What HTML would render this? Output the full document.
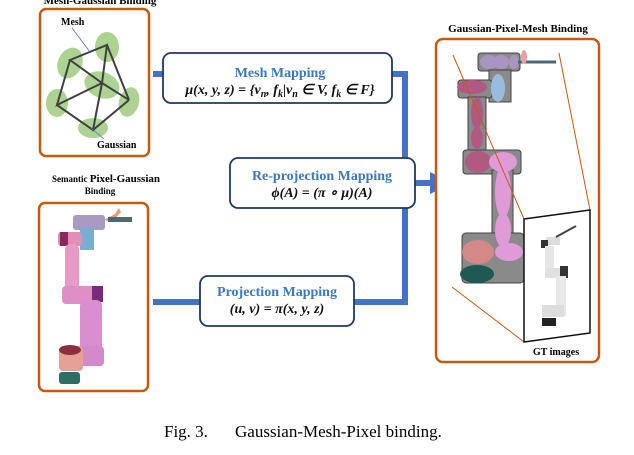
<!DOCTYPE html>
<html><head><meta charset="utf-8"><style>
body{margin:0;background:#fff}
svg{display:block}
text{font-family:"Liberation Serif",serif}
.t{font-weight:bold;fill:#3a78c0;font-size:14px}
.f{font-weight:bold;font-style:italic;font-size:14px;fill:#111}
</style></head><body>
<svg width="634" height="455" viewBox="0 0 634 455">
<g stroke="#4472c4" stroke-width="6" fill="none">
<path d="M153 74 H163"/>
<path d="M392 74 H405 V302 H354"/>
<path d="M153 302 H200"/>
<path d="M415 183 H432"/>
</g>
<polygon points="430,172 452,183 430,194" fill="#4472c4"/>

<text x="100" y="4" text-anchor="middle" font-size="11" font-weight="bold">Mesh-Gaussian Binding</text>
<rect x="40" y="9" width="109" height="147" rx="6" fill="#fff" stroke="#c55a11" stroke-width="2.5"/>
<g fill="#a9d18e" opacity="0.95">
<ellipse cx="70" cy="63" rx="12" ry="16" transform="rotate(25 70 63)"/>
<ellipse cx="107" cy="47" rx="12" ry="15"/>
<ellipse cx="102" cy="85" rx="18" ry="13" transform="rotate(20 102 85)"/>
<ellipse cx="57" cy="103" rx="11" ry="14"/>
<ellipse cx="129" cy="102" rx="10" ry="15" transform="rotate(15 129 102)"/>
<ellipse cx="93" cy="128" rx="15" ry="10"/>
</g>
<g stroke="#404040" stroke-width="2" fill="none">
<path d="M70 60 L107 45 L102 83 Z M107 45 L129 100 M70 60 L57 105 L102 83 L129 100 M57 105 L93 130 L102 83 M93 130 L129 100"/>
</g>
<text x="61" y="25" font-size="10" font-weight="bold">Mesh</text>
<line x1="72" y1="28" x2="90" y2="52" stroke="#4472c4" stroke-width="0.8"/>
<text x="97" y="148" font-size="10" font-weight="bold">Gaussian</text>
<line x1="104" y1="139" x2="91" y2="128" stroke="#4472c4" stroke-width="0.8"/>

<text x="106" y="182" text-anchor="middle" font-weight="bold"><tspan font-size="9">Semantic </tspan><tspan font-size="11">Pixel-Gaussian</tspan></text>
<text x="100" y="194" text-anchor="middle" font-size="9" font-weight="bold">Binding</text>
<rect x="39" y="203" width="109" height="188" rx="6" fill="#fff" stroke="#c55a11" stroke-width="2.5"/>
<g>
<rect x="73" y="215" width="32" height="15" rx="3" fill="#a99ac4"/>
<path d="M104 220 L115 214 L119 208 L121 212 L112 222 Z" fill="#e59a7a"/>
<rect x="108" y="217" width="24" height="5" fill="#4a6a70"/>
<rect x="80" y="228" width="14" height="22" fill="#7aaed0"/>
<rect x="58" y="232" width="24" height="14" rx="3" fill="#e08fb8"/>
<rect x="60" y="232" width="8" height="14" fill="#8a2a5a"/>
<rect x="65" y="244" width="14" height="48" rx="5" fill="#e89ac6"/>
<rect x="62" y="286" width="40" height="18" rx="4" fill="#de8fc4"/>
<rect x="92" y="286" width="11" height="16" fill="#7a2a7a"/>
<rect x="80" y="300" width="22" height="56" rx="6" fill="#d98ed0"/>
<rect x="80" y="346" width="24" height="20" rx="4" fill="#d38acb"/>
<rect x="59" y="346" width="24" height="25" rx="4" fill="#e6a096"/>
<ellipse cx="70" cy="350" rx="11" ry="5" fill="#8b2f3e"/>
<rect x="59" y="372" width="21" height="12" rx="3" fill="#2d6f64"/>
</g>

<rect x="163" y="53" width="229" height="50" rx="8" fill="#fff" stroke="#1f3864" stroke-width="1.8"/>
<text x="280" y="77" text-anchor="middle" class="t">Mesh Mapping</text>
<text x="280" y="94" text-anchor="middle" class="f">μ(x, y, z) = {v<tspan font-size="10" dy="3">n</tspan><tspan dy="-3">, f</tspan><tspan font-size="10" dy="3">k</tspan><tspan dy="-3">|v</tspan><tspan font-size="10" dy="3">n</tspan><tspan dy="-3"> ∈ V, f</tspan><tspan font-size="10" dy="3">k</tspan><tspan dy="-3"> ∈ F}</tspan></text>

<rect x="230" y="158" width="185" height="50" rx="8" fill="#fff" stroke="#1f3864" stroke-width="1.8"/>
<text x="322" y="180" text-anchor="middle" class="t">Re-projection Mapping</text>
<text x="322" y="197" text-anchor="middle" class="f">ϕ(A) = (π ∘ μ)(A)</text>

<rect x="200" y="276" width="154" height="50" rx="8" fill="#fff" stroke="#1f3864" stroke-width="1.8"/>
<text x="277" y="296" text-anchor="middle" class="t">Projection Mapping</text>
<text x="277" y="313" text-anchor="middle" class="f">(u, v) = π(x, y, z)</text>

<text x="518" y="32" text-anchor="middle" font-size="11" font-weight="bold">Gaussian-Pixel-Mesh Binding</text>
<rect x="436" y="39" width="163" height="323" rx="7" fill="#fff" stroke="#c55a11" stroke-width="2.5"/>
<g fill="#8a8a8a" stroke="#444" stroke-width="1">
<rect x="478" y="53" width="42" height="18" rx="3"/>
<rect x="489" y="70" width="22" height="32"/>
<rect x="458" y="80" width="34" height="18" rx="3"/>
<rect x="468" y="97" width="18" height="55"/>
<rect x="463" y="150" width="58" height="24" rx="3"/>
<rect x="492" y="170" width="21" height="70"/>
<rect x="462" y="233" width="62" height="50" rx="4"/>
</g>
<g>
<ellipse cx="489" cy="62" rx="9" ry="7" fill="#a896c0"/>
<ellipse cx="501" cy="62" rx="8" ry="7" fill="#a896c0"/>
<ellipse cx="514" cy="62" rx="5" ry="7" fill="#a896c0"/>
<line x1="518" y1="62" x2="556" y2="62" stroke="#4a6a78" stroke-width="3"/>
<ellipse cx="524" cy="57" rx="3" ry="7" fill="#e8a0a0"/>
<ellipse cx="498" cy="88" rx="7" ry="14" fill="#9bbbdc"/>
<ellipse cx="472" cy="87" rx="15" ry="7" fill="#b05a82"/>
<ellipse cx="477" cy="113" rx="6" ry="16" fill="#b05a82"/>
<ellipse cx="477" cy="138" rx="6" ry="11" fill="#b05a82"/>
<ellipse cx="478" cy="162" rx="13" ry="11" fill="#b05a82"/>
<ellipse cx="503" cy="162" rx="14" ry="10" fill="#e09ad8"/>
<ellipse cx="503" cy="192" rx="8" ry="26" fill="#e09ad8"/>
<ellipse cx="503" cy="230" rx="8" ry="17" fill="#e09ad8"/>
<ellipse cx="478" cy="252" rx="16" ry="12" fill="#d48888"/>
<ellipse cx="509" cy="252" rx="14" ry="9" fill="#e09ad8"/>
<ellipse cx="477" cy="274" rx="17" ry="9" fill="#1f5a52"/>
</g>
<g stroke="#c55a11" stroke-width="1">
<line x1="453" y1="55" x2="524" y2="219"/>
<line x1="559" y1="53" x2="590" y2="210"/>
<line x1="452" y1="287" x2="524" y2="342"/>
</g>
<polygon points="524,219 590,210 590,333 524,342" fill="#fff" stroke="#111" stroke-width="1.5"/>
<g>
<rect x="546" y="237" width="14" height="8" fill="#ddd"/>
<rect x="541" y="240" width="7" height="8" fill="#333"/>
<line x1="556" y1="237" x2="576" y2="226" stroke="#444" stroke-width="2"/>
<rect x="545" y="246" width="9" height="25" fill="#e6e6e6"/>
<rect x="545" y="268" width="22" height="10" fill="#e0e0e0"/>
<rect x="560" y="266" width="8" height="12" fill="#333"/>
<rect x="556" y="276" width="10" height="40" fill="#e8e8e8"/>
<rect x="542" y="305" width="22" height="12" fill="#ddd"/>
<rect x="542" y="318" width="14" height="8" fill="#222"/>
</g>
<text x="556" y="355" text-anchor="middle" font-size="10" font-weight="bold">GT images</text>

<text x="164" y="437" font-size="17">Fig. 3.</text>
<text x="235" y="437" font-size="17">Gaussian-Mesh-Pixel binding.</text>
</svg>
</body></html>
